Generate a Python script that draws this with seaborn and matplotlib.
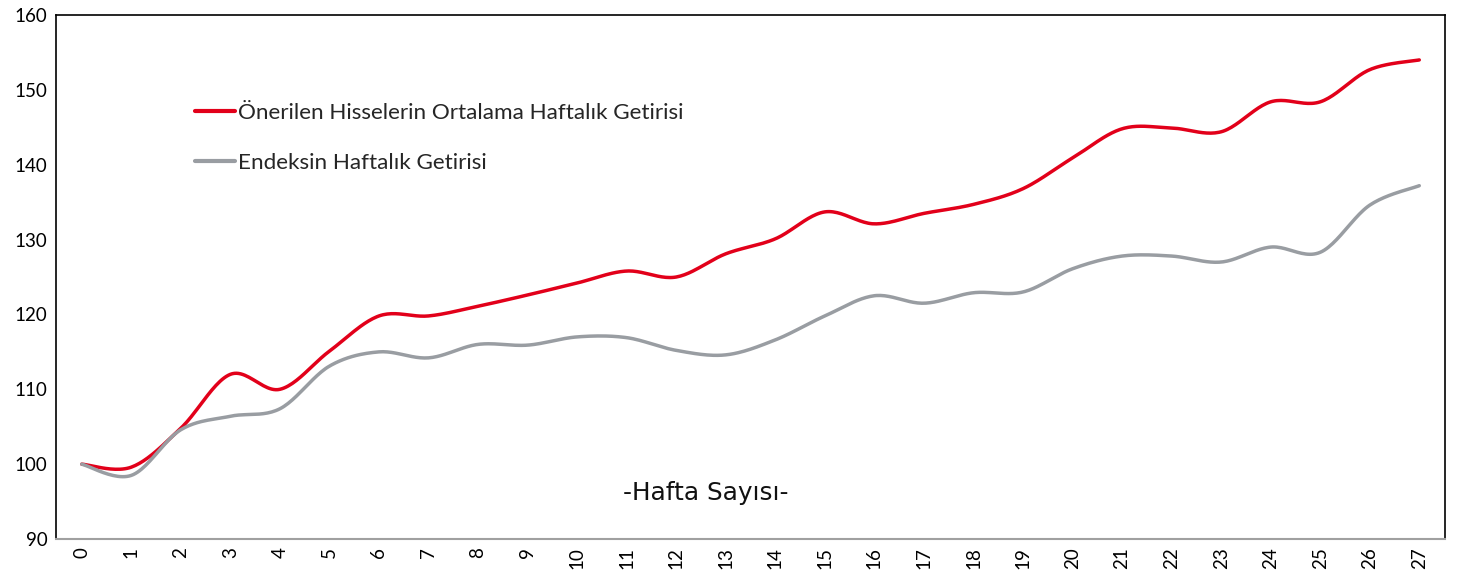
import numpy as np
import pandas as pd
import matplotlib
matplotlib.use("Agg")
import matplotlib.pyplot as plt
import seaborn as sns

weeks = list(range(28))
onerilen = [100.0, 99.6, 104.8, 112.0, 110.0, 115.1, 119.8, 119.8, 121.1, 122.6,
            124.2, 125.8, 125.0, 128.1, 130.1, 133.7, 132.1, 133.5, 134.7, 136.8,
            140.9, 144.8, 144.9, 144.4, 148.4, 148.4, 152.7, 154.0]
endeks = [100.0, 98.5, 104.6, 106.4, 107.4, 113.1, 115.0, 114.2, 116.0, 115.9,
          117.0, 116.9, 115.2, 114.6, 116.6, 119.8, 122.5, 121.5, 122.9, 123.0,
          126.1, 127.8, 127.8, 127.0, 129.0, 128.3, 134.6, 137.2]
series_names = ["Önerilen Hisselerin Ortalama Haftalık Getirisi", "Endeksin Haftalık Getirisi"]
colors = ["#E2001A", "#999DA2"]


def smooth(x, y, n=24):
    # Catmull-Rom style smoothing (like spreadsheet "smoothed line")
    x = np.asarray(x, float)
    y = np.asarray(y, float)
    xs, ys = [], []
    for i in range(len(x) - 1):
        p0 = np.array([x[max(i - 1, 0)], y[max(i - 1, 0)]])
        p1 = np.array([x[i], y[i]])
        p2 = np.array([x[i + 1], y[i + 1]])
        p3 = np.array([x[min(i + 2, len(x) - 1)], y[min(i + 2, len(x) - 1)]])
        c1 = p1 + (p2 - p0) / 6.0
        c2 = p2 - (p3 - p1) / 6.0
        t = np.linspace(0, 1, n, endpoint=(i == len(x) - 2))[:, None]
        pts = ((1 - t) ** 3) * p1 + 3 * ((1 - t) ** 2) * t * c1 + 3 * (1 - t) * t ** 2 * c2 + t ** 3 * p2
        xs.extend(pts[:, 0]); ys.extend(pts[:, 1])
    return np.array(xs), np.array(ys)


frames = []
for name, vals in zip(series_names, [onerilen, endeks]):
    sx, sy = smooth(weeks, vals)
    frames.append(pd.DataFrame({"Hafta": sx, "Değer": sy, "Seri": name}))
df = pd.concat(frames, ignore_index=True)

sns.set_theme(style="white")
plt.rcParams["font.family"] = ["Lato", "DejaVu Sans"]

fig = plt.figure(figsize=(14.62, 5.73), dpi=100)
ax = fig.add_axes([0.0383, 0.0593, 0.9501, 0.9145])

sns.lineplot(data=df, x="Hafta", y="Değer", hue="Seri", palette=colors,
             hue_order=series_names, linewidth=2.5, ax=ax, sort=False,
             estimator=None)

ax.set_xlim(-0.52, 27.52)
ax.set_ylim(90, 160)
ax.set_yticks(range(90, 161, 10))
ax.set_xticks(weeks)
ax.set_xticklabels([str(w) for w in weeks], rotation=90)
ax.tick_params(axis="both", length=0, labelsize=13.5, colors="black", pad=6)
ax.set_xlabel("")
ax.set_ylabel("")

for s in ["left", "top", "right"]:
    ax.spines[s].set_color("black")
    ax.spines[s].set_linewidth(1.2)
ax.spines["bottom"].set_color("#A0A0A0")
ax.spines["bottom"].set_linewidth(1.5)

ax.text(12.6, 96.1, "-Hafta Sayısı-", ha="center", va="center",
        fontsize=17.8, family=["DejaVu Sans"], color="#111111")

leg = ax.legend(loc="upper left", bbox_to_anchor=(0.1, 0.832), frameon=False,
                fontsize=16.2, handlelength=1.8, handletextpad=0.1,
                labelspacing=1.34, borderpad=0, borderaxespad=0)
for line in leg.get_lines():
    line.set_linewidth(3)

fig.savefig("out.png", dpi=100)
